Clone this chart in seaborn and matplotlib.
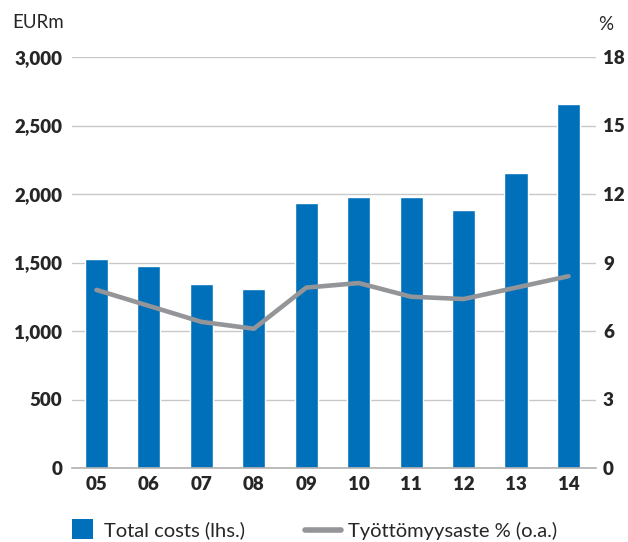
import numpy as np
import pandas as pd
import seaborn as sns
import matplotlib.pyplot as plt
from matplotlib.patches import Patch
from matplotlib.lines import Line2D

years = ['05', '06', '07', '08', '09', '10', '11', '12', '13', '14']
total_costs = [1525, 1475, 1345, 1310, 1935, 1975, 1980, 1880, 2155, 2655]
unemployment = [7.8, 7.1, 6.4, 6.1, 7.9, 8.1, 7.5, 7.4, 7.9, 8.4]

left_ticks = [0, 500, 1000, 1500, 2000, 2500, 3000]
right_ticks = [0, 3, 6, 9, 12, 15, 18]

blue = '#0070BA'
grey = '#939598'

sns.set_style('white')
plt.rcParams['font.family'] = ['Lato', 'DejaVu Sans']

df = pd.DataFrame({'year': years, 'costs': total_costs,
                   'pos': np.arange(len(years)), 'rate': unemployment})

fig = plt.figure(figsize=(6.28, 5.42), dpi=100)
ax = fig.add_axes([72 / 628, 1 - 468 / 542, (596 - 72) / 628, (468 - 57) / 542])
xlim = (-0.467, 9.525)

sns.barplot(data=df, x='year', y='costs', color=blue, saturation=1,
            width=0.44, ax=ax, zorder=2)
ax.set_ylim(0, 3000)
ax.set_xlim(*xlim)
ax.set_yticks(left_ticks)
ax.set_yticklabels([f'{v:,}' for v in left_ticks], fontsize=13.5, fontweight='heavy')
ax.yaxis.grid(True, color='#c8c8c8', linewidth=1, zorder=0)
ax.set_axisbelow(True)
ax.set_xlabel('')
ax.set_ylabel('')
for s in ['top', 'right', 'left']:
    ax.spines[s].set_visible(False)
ax.spines['bottom'].set_color('#b0b0b0')
ax.spines['bottom'].set_linewidth(1.2)
ax.tick_params(axis='y', length=0, pad=7)
ax.tick_params(axis='x', which='major', length=0, pad=6, labelsize=13.5)
for lbl in ax.get_xticklabels():
    lbl.set_fontweight('heavy')
ax.set_xticks(np.arange(0.5, len(years) - 1, 1), minor=True)
ax.tick_params(axis='x', which='minor', length=8, color='#b0b0b0', width=1.2)

ax2 = ax.twinx()
sns.lineplot(data=df, x='pos', y='rate', color=grey, linewidth=3.3, ax=ax2)
ax2.set_ylim(0, 18)
ax2.set_yticks(right_ticks)
ax2.set_yticklabels([str(v) for v in right_ticks], fontsize=13.5, fontweight='heavy')
ax2.tick_params(axis='y', length=0, pad=5)
ax2.set_ylabel('')
ax2.set_xlabel('')
for s in ['top', 'right', 'left', 'bottom']:
    ax2.spines[s].set_visible(False)
ax.set_xlim(*xlim)

fig.text(12 / 628, 1 - 22 / 542, 'EURm', fontsize=13.5, va='center', ha='left')
fig.text(606 / 628, 1 - 24 / 542, '%', fontsize=13.5, va='center', ha='center')

leg1 = fig.legend([Patch(facecolor=blue, edgecolor='none')], ['Total costs (lhs.)'],
                  loc='center left', bbox_to_anchor=(72 / 628, 1 - 529 / 542),
                  frameon=False, fontsize=14.5, handlelength=1.05, handleheight=1.1,
                  handletextpad=0.55, borderpad=0, borderaxespad=0)
leg2 = fig.legend([Line2D([0], [0], color=grey, linewidth=4, solid_capstyle='round')],
                  ['Työttömyysaste % (o.a.)'],
                  loc='center left', bbox_to_anchor=(305 / 628, 1 - 531 / 542),
                  frameon=False, fontsize=14.5, handlelength=1.8,
                  handletextpad=0.35, borderpad=0, borderaxespad=0)

fig.savefig('out.png', dpi=100)
